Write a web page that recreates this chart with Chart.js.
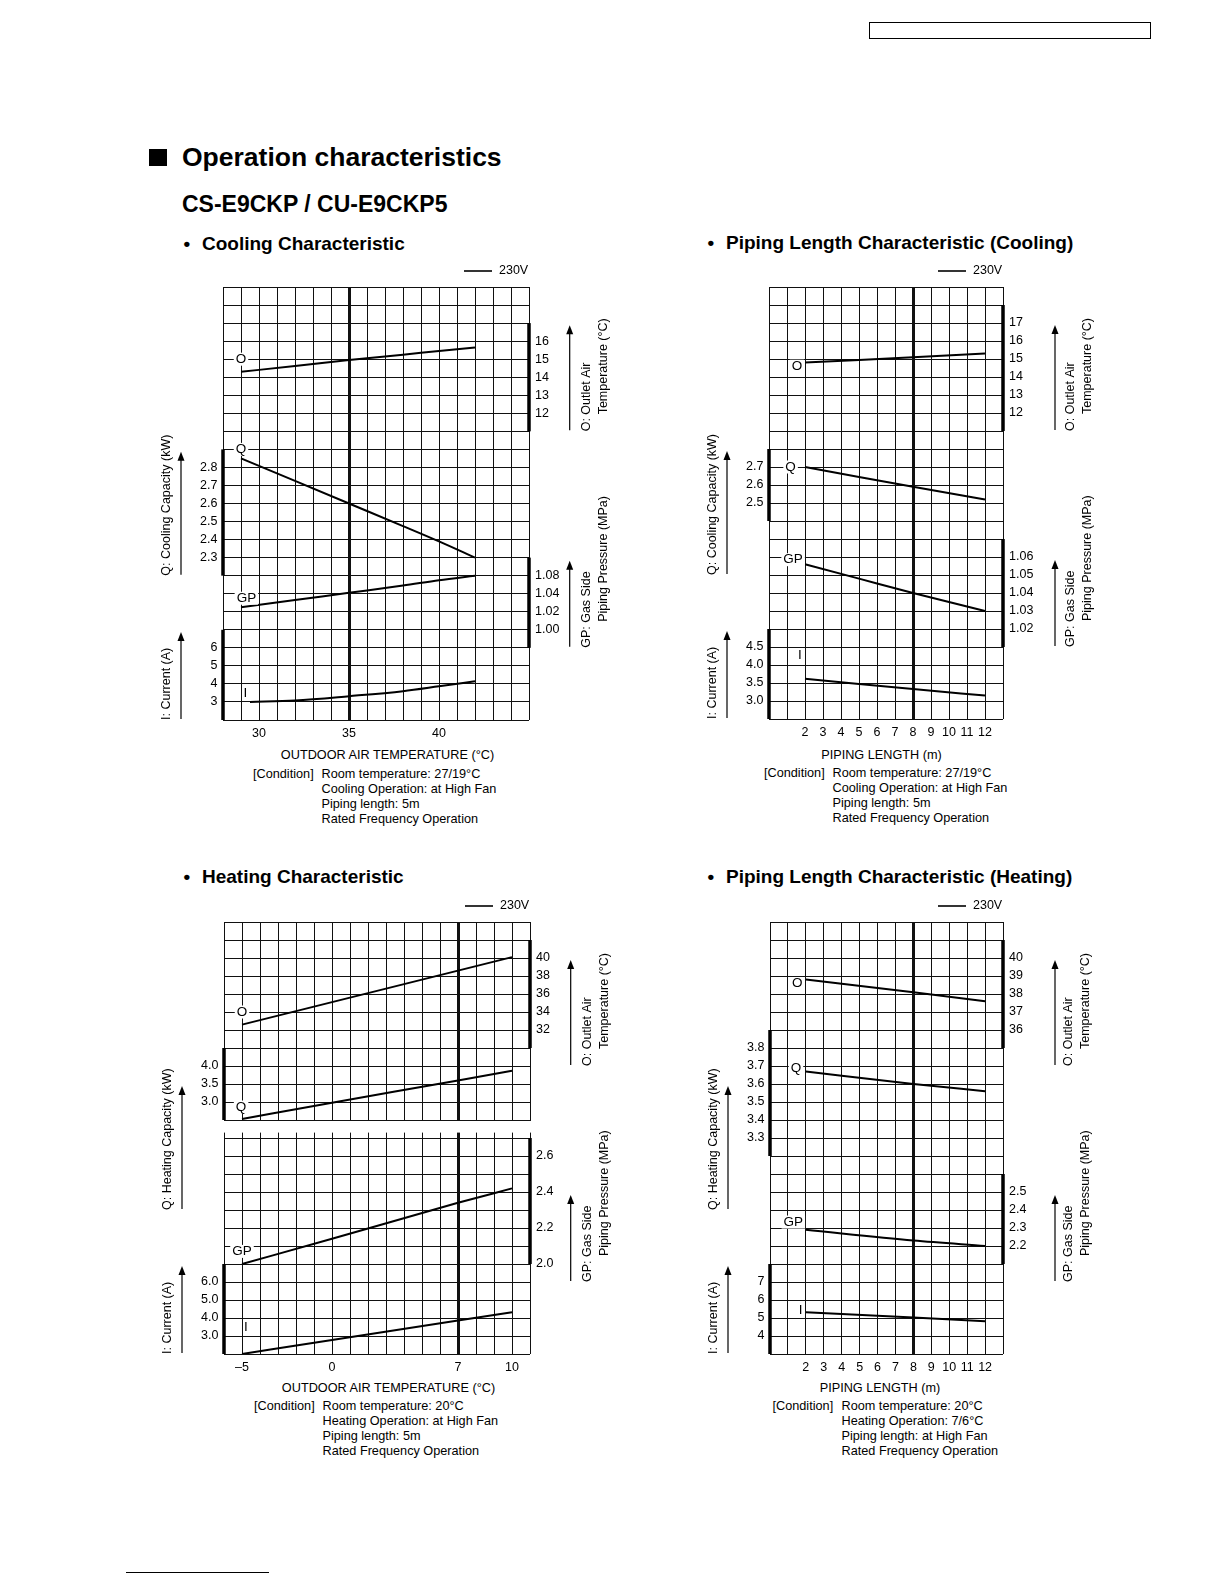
<!DOCTYPE html>
<html>
<head>
<meta charset="utf-8">
<title>Operation characteristics</title>
<script src="https://cdn.jsdelivr.net/npm/chart.js"></script>
<style>
  body { margin: 0; background: #fff; }
  #page { position: relative; width: 1224px; height: 1584px; overflow: hidden; font-family: "Liberation Sans", Arial, sans-serif; color: #000; }
  .t { position: absolute; white-space: nowrap; }
  canvas { position: absolute; }
</style>
</head>
<body>
<div id="page"></div>
<script>
// ---- Cooling characteristic (x = outdoor air temperature, deg C) ----
const coolX = [29, 32, 35, 38, 40, 42];
const coolO = [14.3, 14.62, 14.95, 15.25, 15.45, 15.65];
const coolQ = [2.85, 2.725, 2.6, 2.475, 2.39, 2.3];
const coolGP = [1.025, 1.033, 1.041, 1.049, 1.055, 1.06];
const coolIX = [29.5, 32, 35, 38, 40, 42];
const coolI = [3.0, 3.08, 3.32, 3.6, 3.87, 4.15];
const coolXTicks = [30, 35, 40];
const coolOTicks = [16, 15, 14, 13, 12];
const coolQTicks = [2.8, 2.7, 2.6, 2.5, 2.4, 2.3];
const coolGPTicks = [1.06, 1.04, 1.02, 1.00];
const coolGPTickText = ["1.08", "1.04", "1.02", "1.00"];
const coolITicks = [6, 5, 4, 3];

// ---- Piping length characteristic, cooling (x = piping length, m) ----
const pipeCoolX = [2, 5, 8, 12];
const pipeCoolO = [14.8, 14.95, 15.1, 15.3];
const pipeCoolQ = [2.70, 2.645, 2.59, 2.52];
const pipeCoolGP = [1.056, 1.048, 1.040, 1.030];
const pipeCoolI = [3.62, 3.47, 3.33, 3.15];
const pipeXTicks = [2, 3, 4, 5, 6, 7, 8, 9, 10, 11, 12];
const pipeCoolOTicks = [17, 16, 15, 14, 13, 12];
const pipeCoolQTicks = [2.7, 2.6, 2.5];
const pipeCoolGPTicks = [1.06, 1.05, 1.04, 1.03, 1.02];
const pipeCoolITicks = [4.5, 4.0, 3.5, 3.0];

// ---- Heating characteristic ----
const heatX = [-5, 0, 7, 10];
const heatO = [32.6, 35.1, 38.6, 40.1];
const heatQ = [2.53, 2.98, 3.6, 3.87];
const heatGP = [2.0, 2.14, 2.34, 2.42];
const heatI = [2.0, 2.78, 3.86, 4.32];
const heatXTicks = [-5, 0, 7, 10];
const heatOTicks = [40, 38, 36, 34, 32];
const heatQTicks = [4.0, 3.5, 3.0];
const heatGPTicks = [2.6, 2.4, 2.2, 2.0];
const heatITicks = [6.0, 5.0, 4.0, 3.0];

// ---- Piping length characteristic, heating ----
const pipeHeatX = [2, 8, 12];
const pipeHeatO = [38.8, 38.1, 37.6];
const pipeHeatQ = [3.67, 3.60, 3.56];
const pipeHeatGP = [2.29, 2.23, 2.20];
const pipeHeatI = [5.32, 5.03, 4.82];
const pipeHeatOTicks = [40, 39, 38, 37, 36];
const pipeHeatQTicks = [3.8, 3.7, 3.6, 3.5, 3.4, 3.3];
const pipeHeatGPTicks = [2.5, 2.4, 2.3, 2.2];
const pipeHeatITicks = [7, 6, 5, 4];

const FONT = '12.5px "Liberation Sans", Arial, sans-serif';
const TAG_FONT = '13.5px "Liberation Sans", Arial, sans-serif';
const ROWS = 24;
const PL = 80, PT = 36, PR = 115, PB = 30, XH = 22;

const page = document.getElementById("page");

function addText(x, cy, str, size, bold, center) {
    const d = document.createElement("div");
    d.className = "t";
    d.textContent = str;
    const h = size * 1.2;
    d.style.left = x + "px";
    d.style.top = (cy - h / 2) + "px";
    d.style.fontSize = size + "px";
    d.style.lineHeight = h + "px";
    if (bold) d.style.fontWeight = "bold";
    if (center) d.style.transform = "translateX(-50%)";
    page.appendChild(d);
}

function addBox(x, y, w, h, css) {
    const d = document.createElement("div");
    d.style.position = "absolute";
    d.style.left = x + "px";
    d.style.top = y + "px";
    d.style.width = w + "px";
    d.style.height = h + "px";
    d.style.cssText += css;
    page.appendChild(d);
}

// page furniture
addBox(869, 22, 280, 15, "border:1.5px solid #000;");
addBox(126, 1572, 143, 0, "border-top:1px solid #000;");
addBox(149, 149, 18, 17, "background:#000;");
addText(182, 157.5, "Operation characteristics", 26.5, true);
addText(182, 205, "CS-E9CKP / CU-E9CKP5", 23, true);
addText(183.5, 244, "\u2022", 19, true);
addText(202, 244, "Cooling Characteristic", 19, true);
addText(707.5, 243.5, "\u2022", 19, true);
addText(726, 243.5, "Piping Length Characteristic (Cooling)", 19, true);
addText(183.5, 877, "\u2022", 19, true);
addText(202, 877, "Heating Characteristic", 19, true);
addText(707.5, 877, "\u2022", 19, true);
addText(726, 877, "Piping Length Characteristic (Heating)", 19, true);

function conditions(x0, x1, y, lines) {
    addText(x0, y, "[Condition]", 12.7);
    lines.forEach((ln, i) => addText(x1, y + i * 15, ln, 12.7));
}
addText(387.5, 756, "OUTDOOR AIR TEMPERATURE (\u00B0C)", 12.7, false, true);
conditions(253, 321.5, 774.5, ["Room temperature: 27/19\u00B0C", "Cooling Operation: at High Fan", "Piping length: 5m", "Rated Frequency Operation"]);
addText(881.5, 755.5, "PIPING LENGTH (m)", 12.7, false, true);
conditions(764, 832.5, 773.5, ["Room temperature: 27/19\u00B0C", "Cooling Operation: at High Fan", "Piping length: 5m", "Rated Frequency Operation"]);
addText(388.5, 1388.5, "OUTDOOR AIR TEMPERATURE (\u00B0C)", 12.7, false, true);
conditions(254, 322.5, 1406.5, ["Room temperature: 20\u00B0C", "Heating Operation: at High Fan", "Piping length: 5m", "Rated Frequency Operation"]);
addText(880, 1388.5, "PIPING LENGTH (m)", 12.7, false, true);
conditions(772.5, 841.5, 1406.5, ["Room temperature: 20\u00B0C", "Heating Operation: 7/6\u00B0C", "Piping length: at High Fan", "Rated Frequency Operation"]);

// titles next to the axis bars
const titleO = { lines: ["O: Outlet Air", "Temperature (\u00B0C)"], row: 8, arrow: 106, indent: 17 };
const titleGP = { lines: ["GP: Gas Side", "Piping Pressure (MPa)"], row: 20, arrow: 87, indent: 26 };
const titleI = { lines: ["I: Current (A)"], row: 24, arrow: 88 };
const titleQc = { lines: ["Q: Cooling Capacity (kW)"], row: 16, arrow: 124 };
const titleQh = { lines: ["Q: Heating Capacity (kW)"], row: 16, arrow: 124 };

function makeDecor(spec) {
    return {
        id: "decor",
        beforeDatasetsDraw(chart) {
            if (!spec.gap) return;
            const a = chart.chartArea;
            const row = chart.scales.yRow;
            const y0 = row.getPixelForValue(spec.gap[0]) + 1;
            const y1 = row.getPixelForValue(spec.gap[1]);
            const ctx = chart.ctx;
            ctx.save();
            ctx.fillStyle = "#fff";
            ctx.fillRect(a.left - 3, y0, a.right - a.left + 6, y1 - y0);
            ctx.restore();
        },
        afterDatasetsDraw(chart) {
            const ctx = chart.ctx;
            const a = chart.chartArea;
            const row = chart.scales.yRow;
            const xs = chart.scales.x;
            ctx.save();
            ctx.fillStyle = "#000";
            ctx.strokeStyle = "#000";

            spec.axes.forEach(ax => {
                const s = chart.scales[ax.id];
                const left = ax.side === "left";
                const ex = left ? a.left : a.right;
                // heavy bar of the section
                ctx.lineWidth = 3.5;
                ctx.beginPath();
                ctx.moveTo(ex, s.getPixelForValue(ax.bar[0]));
                ctx.lineTo(ex, s.getPixelForValue(ax.bar[1]));
                ctx.stroke();
                // tick labels
                ctx.font = FONT;
                ctx.textBaseline = "middle";
                ctx.textAlign = left ? "right" : "left";
                ax.ticks.forEach((v, i) => {
                    const txt = ax.text ? ax.text[i] : v.toFixed(ax.dec);
                    ctx.fillText(txt, ex + (left ? -5.5 : 6), s.getPixelForValue(v));
                });
                // arrow + rotated title
                const t = ax.title;
                const yb = row.getPixelForValue(t.row);
                const arrowX = left ? a.left - 42 : a.right + spec.rArrow;
                const textX = left ? a.left - 56 : a.right + spec.rText;
                ctx.lineWidth = 1.2;
                ctx.beginPath();
                ctx.moveTo(arrowX, yb - 1);
                ctx.lineTo(arrowX, yb - t.arrow + 6);
                ctx.stroke();
                ctx.beginPath();
                ctx.moveTo(arrowX, yb - t.arrow);
                ctx.lineTo(arrowX - 3.5, yb - t.arrow + 9);
                ctx.lineTo(arrowX + 3.5, yb - t.arrow + 9);
                ctx.closePath();
                ctx.fill();
                ctx.save();
                ctx.translate(textX, yb);
                ctx.rotate(-Math.PI / 2);
                ctx.textAlign = "left";
                ctx.textBaseline = "middle";
                t.lines.forEach((ln, k) => ctx.fillText(ln, k ? t.indent : 0, k * 16.6));
                ctx.restore();
            });

            // series names inside the grid
            ctx.font = TAG_FONT;
            ctx.textAlign = "center";
            ctx.textBaseline = "middle";
            spec.tags.forEach(tg => {
                const px = xs.getPixelForValue(tg.x);
                const py = row.getPixelForValue(tg.r);
                const w = ctx.measureText(tg.t).width;
                if (tg.mask !== false) {
                    ctx.fillStyle = "#fff";
                    ctx.fillRect(px - w / 2 - 2, py - 6.5, w + 4, 13);
                }
                ctx.fillStyle = "#000";
                ctx.fillText(tg.t, px, py);
            });

            // 230V key
            const ly = a.top - 16;
            ctx.lineWidth = 1.6;
            ctx.beginPath();
            ctx.moveTo(a.right - 65, ly);
            ctx.lineTo(a.right - 37, ly);
            ctx.stroke();
            ctx.font = FONT;
            ctx.textAlign = "left";
            ctx.fillText("230V", a.right - 30, ly);
            ctx.restore();
        }
    };
}

function series(label, xs, ys, axis) {
    return {
        label: label,
        yAxisID: axis,
        data: xs.map((x, i) => ({ x: x, y: ys[i] })),
        borderColor: "#000",
        borderWidth: 2,
        pointRadius: 0,
        cubicInterpolationMode: "monotone",
        fill: false
    };
}

function fmtX(v) {
    return v < 0 ? "\u2013" + Math.abs(v) : String(v);
}

function buildChart(spec) {
    const g = spec.grid;
    const canvas = document.createElement("canvas");
    canvas.width = (g.right - g.left) + PL + PR;
    canvas.height = (g.bottom - g.top) + PT + PB;
    canvas.style.left = (g.left - PL) + "px";
    canvas.style.top = (g.top - PT) + "px";
    page.appendChild(canvas);

    const scales = {
        x: {
            type: "linear",
            min: spec.xMin,
            max: spec.xMax,
            afterBuildTicks: s => {
                s.ticks = [];
                for (let v = spec.xMin; v <= spec.xMax; v++) s.ticks.push({ value: v });
            },
            afterFit: s => {
                s.height = XH;
                s.paddingLeft = 0;
                s.paddingRight = 0;
            },
            ticks: {
                autoSkip: false,
                maxRotation: 0,
                padding: 6,
                color: "#000",
                font: { size: 12.5 },
                callback: v => spec.xTicks.includes(v) ? fmtX(v) : ""
            },
            grid: {
                color: "#111",
                lineWidth: c => (c.tick && c.tick.value === spec.thick) ? 3 : 1,
                drawTicks: false
            },
            border: { display: false }
        },
        yRow: {
            type: "linear",
            position: "left",
            min: 0,
            max: ROWS,
            reverse: true,
            afterBuildTicks: s => {
                s.ticks = [];
                for (let v = 0; v <= ROWS; v++) s.ticks.push({ value: v });
            },
            ticks: { display: false },
            grid: { color: "#111", lineWidth: 1, drawTicks: false },
            border: { display: false }
        }
    };
    spec.axes.forEach(ax => {
        scales[ax.id] = { type: "linear", display: false, min: ax.min, max: ax.max };
    });

    new Chart(canvas, {
        type: "line",
        data: { datasets: spec.datasets },
        options: {
            responsive: false,
            animation: false,
            events: [],
            layout: { padding: { left: PL, top: PT, right: PR, bottom: PB - XH } },
            plugins: { legend: { display: false }, tooltip: { enabled: false } },
            scales: scales
        },
        plugins: [makeDecor(spec)]
    });
}

Chart.defaults.font.family = '"Liberation Sans", Arial, sans-serif';

// Cooling Characteristic
buildChart({
    grid: { left: 223, top: 287, right: 529, bottom: 720 },
    xMin: 28, xMax: 45, thick: 35, xTicks: coolXTicks,
    rArrow: 40.7, rText: 58,
    axes: [
        { id: "yO", side: "right", min: -5, max: 19, bar: [17, 11], ticks: coolOTicks, dec: 0, title: titleO },
        { id: "yQ", side: "left", min: 1.4, max: 3.8, bar: [2.9, 2.2], ticks: coolQTicks, dec: 1, title: titleQc },
        { id: "yGP", side: "right", min: 0.90, max: 1.38, bar: [1.08, 0.98], ticks: coolGPTicks, text: coolGPTickText, title: titleGP },
        { id: "yI", side: "left", min: 2, max: 26, bar: [7, 2], ticks: coolITicks, dec: 0, title: titleI }
    ],
    datasets: [
        series("O", coolX, coolO, "yO"),
        series("Q", coolX, coolQ, "yQ"),
        series("GP", coolX, coolGP, "yGP"),
        series("I", coolIX, coolI, "yI")
    ],
    tags: [
        { t: "O", x: 29, r: 4 },
        { t: "Q", x: 29, r: 9 },
        { t: "GP", x: 29.3, r: 17.25 },
        { t: "I", x: 29.25, r: 22.5, mask: false }
    ]
});

// Piping Length Characteristic (Cooling)
buildChart({
    grid: { left: 769, top: 287, right: 1003, bottom: 719 },
    xMin: 0, xMax: 13, thick: 8, xTicks: pipeXTicks,
    rArrow: 52, rText: 67.5,
    axes: [
        { id: "yO", side: "right", min: -5, max: 19, bar: [18, 11], ticks: pipeCoolOTicks, dec: 0, title: titleO },
        { id: "yQ", side: "left", min: 1.3, max: 3.7, bar: [2.8, 2.4], ticks: pipeCoolQTicks, dec: 1, title: titleQc },
        { id: "yGP", side: "right", min: 0.97, max: 1.21, bar: [1.07, 1.01], ticks: pipeCoolGPTicks, dec: 2, title: titleGP },
        { id: "yI", side: "left", min: 2.5, max: 14.5, bar: [5.0, 2.5], ticks: pipeCoolITicks, dec: 1, title: titleI }
    ],
    datasets: [
        series("O", pipeCoolX, pipeCoolO, "yO"),
        series("Q", pipeCoolX, pipeCoolQ, "yQ"),
        series("GP", pipeCoolX, pipeCoolGP, "yGP"),
        series("I", pipeCoolX, pipeCoolI, "yI")
    ],
    tags: [
        { t: "O", x: 1.55, r: 4.4 },
        { t: "Q", x: 1.2, r: 10 },
        { t: "GP", x: 1.34, r: 15.15 },
        { t: "I", x: 1.71, r: 20.46, mask: false }
    ]
});

// Heating Characteristic
buildChart({
    grid: { left: 224, top: 922, right: 530, bottom: 1354 },
    xMin: -6, xMax: 11, thick: 7, xTicks: heatXTicks,
    rArrow: 40.7, rText: 57.5,
    gap: [11, 11.7],
    axes: [
        { id: "yO", side: "right", min: -4, max: 44, bar: [42, 30], ticks: heatOTicks, dec: 0, title: titleO },
        { id: "yQ", side: "left", min: -4, max: 8, bar: [4.5, 2.5], ticks: heatQTicks, dec: 1, title: titleQh },
        { id: "yGP", side: "right", min: 1.5, max: 3.9, bar: [2.7, 2.0], ticks: heatGPTicks, dec: 1, title: titleGP },
        { id: "yI", side: "left", min: 2, max: 26, bar: [7, 2], ticks: heatITicks, dec: 1, title: titleI }
    ],
    datasets: [
        series("O", heatX, heatO, "yO"),
        series("Q", heatX, heatQ, "yQ"),
        series("GP", heatX, heatGP, "yGP"),
        series("I", heatX, heatI, "yI")
    ],
    tags: [
        { t: "O", x: -5, r: 5 },
        { t: "Q", x: -5.05, r: 10.28 },
        { t: "GP", x: -5, r: 18.3 },
        { t: "I", x: -4.78, r: 22.5, mask: false }
    ]
});

// Piping Length Characteristic (Heating)
buildChart({
    grid: { left: 770, top: 922, right: 1003, bottom: 1354 },
    xMin: 0, xMax: 13, thick: 8, xTicks: pipeXTicks,
    rArrow: 52, rText: 66,
    axes: [
        { id: "yO", side: "right", min: 18, max: 42, bar: [41, 35], ticks: pipeHeatOTicks, dec: 0, title: titleO },
        { id: "yQ", side: "left", min: 2.1, max: 4.5, bar: [3.9, 3.2], ticks: pipeHeatQTicks, dec: 1, title: titleQh },
        { id: "yGP", side: "right", min: 1.6, max: 4.0, bar: [2.6, 2.1], ticks: pipeHeatGPTicks, dec: 1, title: titleGP },
        { id: "yI", side: "left", min: 3, max: 27, bar: [8, 3], ticks: pipeHeatITicks, dec: 0, title: titleI }
    ],
    datasets: [
        series("O", pipeHeatX, pipeHeatO, "yO"),
        series("Q", pipeHeatX, pipeHeatQ, "yQ"),
        series("GP", pipeHeatX, pipeHeatGP, "yGP"),
        series("I", pipeHeatX, pipeHeatI, "yI")
    ],
    tags: [
        { t: "O", x: 1.52, r: 3.43 },
        { t: "Q", x: 1.45, r: 8.14 },
        { t: "GP", x: 1.3, r: 16.67 },
        { t: "I", x: 1.71, r: 21.59, mask: false }
    ]
});
</script>
</body>
</html>
